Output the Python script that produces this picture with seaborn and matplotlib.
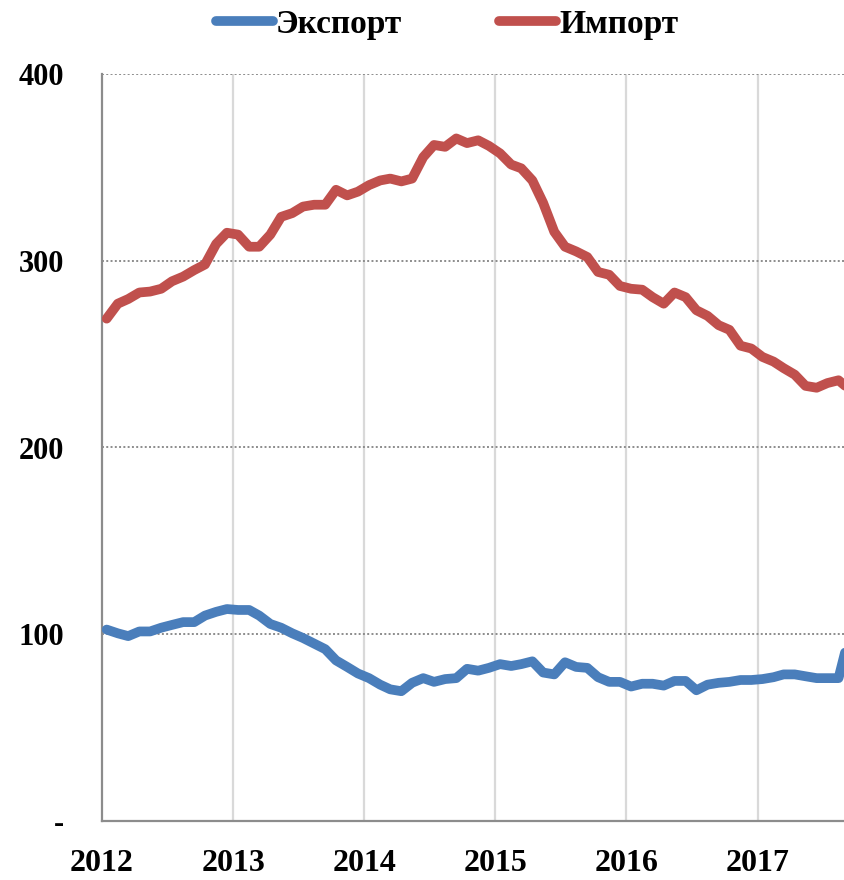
import pandas as pd
import seaborn as sns
import matplotlib.pyplot as plt
from matplotlib.lines import Line2D

# ============================
# Data (monthly, Jan 2012 - Sep 2017)
# ============================
export_vals = [
    102.5, 100.5, 99, 101.5, 101.5, 103.5, 105, 106.5, 106.5, 110,
    112, 113.5, 113, 113, 110, 105.5, 103.5, 100.5, 98, 95,
    92, 86, 82.5, 79, 76.5, 73, 70.5, 69.5, 74, 76.5,
    74.5, 76, 76.5, 81.5, 80.5, 82, 84, 83, 84, 85.5,
    79.5, 78.5, 85, 82.5, 82, 77, 74.5, 74.5, 72, 73.5,
    73.5, 72.5, 75, 75, 70, 73, 74, 74.5, 75.5, 75.5,
    76, 77, 78.5, 78.5, 77.5, 76.5, 76.5, 76.5, 100,
]
import_vals = [
    269, 277, 279.5, 283, 283.5, 285, 289, 291.5, 295, 298,
    309, 315, 314, 307.5, 307.5, 314, 323.5, 325.5, 329, 330,
    330, 338, 335, 337, 340.5, 343, 344, 342.5, 344, 355.5,
    362, 361, 365.5, 363, 364.5, 361.5, 357.5, 351.5, 349.5, 343,
    331, 315.5, 307.5, 305, 302, 294, 292.5, 286.5, 285, 284.5,
    280.5, 277, 283, 280.5, 273.5, 270.5, 265.5, 263, 254.5, 253,
    248.5, 246, 242.5, 239, 233, 232, 234.5, 236, 231,
]
series_names = ["Экспорт", "Импорт"]
series_colors = ["#4A7EBB", "#C0504D"]
years = [2012, 2013, 2014, 2015, 2016, 2017]
y_ticks = [0, 100, 200, 300, 400]
y_labels = ["-", "100", "200", "300", "400"]

dates = pd.date_range("2012-01-01", periods=len(export_vals), freq="MS") + pd.Timedelta(days=13)
df = pd.DataFrame({"date": dates, series_names[0]: export_vals, series_names[1]: import_vals})
long_df = df.melt(id_vars="date", var_name="series", value_name="value")

# ============================
# Plot
# ============================
sns.set_theme(style="white")
plt.rcParams["font.family"] = ["Liberation Serif", "DejaVu Serif"]
plt.rcParams["font.weight"] = "bold"
plt.rcParams["text.color"] = "black"
plt.rcParams["xtick.labelcolor"] = "black"
plt.rcParams["ytick.labelcolor"] = "black"

fig = plt.figure(figsize=(8.45, 8.8), dpi=100)
ax = fig.add_axes([102 / 845, 59 / 880, 743 / 845, 747 / 880])

palette = dict(zip(series_names, series_colors))
sns.lineplot(data=long_df, x="date", y="value", hue="series", palette=palette,
             linewidth=7, legend=False, ax=ax, sort=False,
             solid_capstyle="round", solid_joinstyle="round", zorder=3)

ax.set_xlim(pd.Timestamp("2012-01-01"), pd.Timestamp("2017-09-01"))
ax.set_ylim(0, 400)

# grid: vertical solid, horizontal dotted
for y in years[1:]:
    ax.axvline(pd.Timestamp(f"{y}-01-01"), color="#D9D9D9", linewidth=1.6, zorder=1)
for v in y_ticks[1:]:
    ax.axhline(v, color="#8C8C8C", linewidth=1.4, linestyle=(0, (1, 1.2)), zorder=1)

ax.set_xticks([pd.Timestamp(f"{y}-01-01") for y in years])
ax.set_xticklabels([str(y) for y in years], fontsize=23, fontweight="bold", color="black")
ax.set_yticks(y_ticks)
ax.set_yticklabels(y_labels, fontsize=22, fontweight="bold", color="black")
ax.tick_params(axis="x", direction="out", length=8, width=1.5, color="#8C8C8C", pad=12)
ax.tick_params(axis="y", direction="out", length=8, width=1.5, color="#8C8C8C", pad=19)
ax.set_xlabel("")
ax.set_ylabel("")

for side in ["top", "right"]:
    ax.spines[side].set_visible(False)
for side in ["left", "bottom"]:
    ax.spines[side].set_color("#8C8C8C")
    ax.spines[side].set_linewidth(1.6)

# legend at the top
handles = [Line2D([0], [0], color=c, linewidth=7, solid_capstyle="round") for c in series_colors]
fig.legend(handles, series_names, loc="center", bbox_to_anchor=(447 / 845, 1 - 24 / 880),
           ncol=2, frameon=False, prop={"size": 24, "weight": "bold"},
           handlelength=1.7, handletextpad=0.1, columnspacing=2.9, labelcolor="black")

plt.savefig("out.png", dpi=100)
